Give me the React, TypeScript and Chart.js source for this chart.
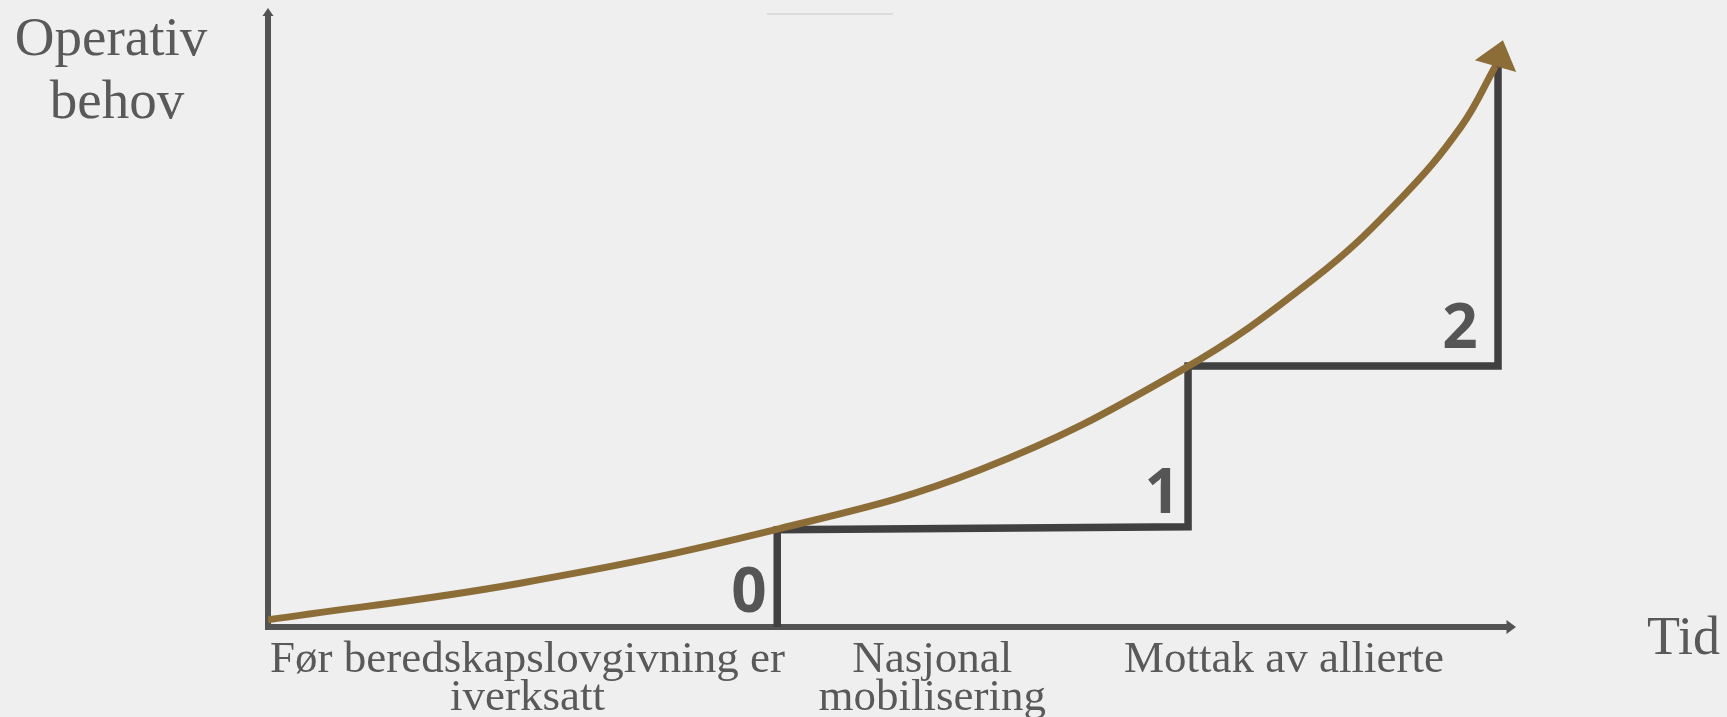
import React, { useEffect, useRef } from 'react';
import { Chart, registerables } from 'chart.js';

Chart.register(...registerables);

// ---- data (abstract units: time on x, operational need on y) ----
const phaseLabels: string[][] = [
  ['Før beredskapslovgivning er', 'iverksatt'],
  ['Nasjonal', 'mobilisering'],
  ['Mottak av allierte'],
];
const phaseLabelCenters = [21.1, 54.0, 82.6];

const curveX = [0, 20.5, 41.6, 57.9, 74.1, 85.0, 92.0, 97.0, 99.8];
const curveY = [1.2, 7.3, 16.4, 26.2, 42.6, 58.0, 71.2, 83.4, 93.5];
const curveTip = { x: 100.4, y: 97.8 };

const stepX = [41.4, 41.4, 74.8, 74.8, 100, 100];
const stepY = [0, 16.2, 16.7, 43.5, 43.5, 93.7];

const levelNames = ['0', '1', '2'];
const levelX = [39.1, 72.7, 96.9];
const levelY = [2.5, 19.0, 46.5];

const yTitle = ['Operativ', 'behov'];
const xTitle = 'Tid';

const X_MIN = 0;
const X_MAX = 100.73;
const Y_MIN = 0;
const Y_MAX = 101.67;

// ---- styles ----
const BG = '#efefef';
const AXIS_COLOR = '#535353';
const STEP_COLOR = '#404040';
const CURVE_COLOR = '#8c6d37';
const TEXT_COLOR = '#595959';
const LEVEL_COLOR = '#555555';
const SERIF = '"Liberation Serif", "DejaVu Serif", serif';

const decorPlugin = {
  id: 'decor',
  afterDraw(chart: any) {
    const { ctx, chartArea } = chart;
    const xs = chart.scales.x;
    const ys = chart.scales.y;
    ctx.save();

    // faint line at top
    ctx.strokeStyle = '#dcdcdc';
    ctx.lineWidth = 2;
    ctx.beginPath();
    ctx.moveTo(767, 14);
    ctx.lineTo(893, 14);
    ctx.stroke();

    // y-axis arrowhead
    ctx.fillStyle = AXIS_COLOR;
    const ax = chartArea.left;
    const at = chartArea.top;
    ctx.beginPath();
    ctx.moveTo(ax, at - 9);
    ctx.lineTo(ax + 5.5, at - 1);
    ctx.lineTo(ax - 5.5, at - 1);
    ctx.closePath();
    ctx.fill();

    // x-axis arrowhead
    const ab = chartArea.bottom;
    const ar = chartArea.right;
    ctx.beginPath();
    ctx.moveTo(ar + 9, ab);
    ctx.lineTo(ar - 0.5, ab - 7);
    ctx.lineTo(ar - 0.5, ab + 7);
    ctx.closePath();
    ctx.fill();

    // curve arrowhead
    const n = curveX.length - 1;
    const lx = xs.getPixelForValue(curveX[n]);
    const ly = ys.getPixelForValue(curveY[n]);
    const tx = xs.getPixelForValue(curveTip.x);
    const ty = ys.getPixelForValue(curveTip.y);
    const dx = tx - lx;
    const dy = ty - ly;
    const len = Math.hypot(dx, dy) || 1;
    const ux = dx / len;
    const uy = dy / len;
    const headLen = 27;
    const halfW = 21.5;
    const bx = tx - ux * headLen;
    const by = ty - uy * headLen;
    ctx.fillStyle = CURVE_COLOR;
    ctx.beginPath();
    ctx.moveTo(tx, ty);
    ctx.lineTo(bx - uy * halfW, by + ux * halfW);
    ctx.lineTo(bx + uy * halfW, by - ux * halfW);
    ctx.closePath();
    ctx.fill();

    // level numbers
    ctx.fillStyle = LEVEL_COLOR;
    ctx.font = 'bold 62px "Open Sans", "DejaVu Sans", sans-serif';
    ctx.textAlign = 'center';
    ctx.textBaseline = 'alphabetic';
    levelNames.forEach((t, i) => {
      ctx.fillText(t, xs.getPixelForValue(levelX[i]), ys.getPixelForValue(levelY[i]));
    });

    // axis titles
    ctx.fillStyle = TEXT_COLOR;
    ctx.font = `55px ${SERIF}`;
    ctx.textAlign = 'center';
    ctx.fillText(yTitle[0], 111, 55);
    ctx.fillText(yTitle[1], 117, 118);
    ctx.font = `54px ${SERIF}`;
    ctx.textAlign = 'left';
    ctx.fillText(xTitle, 1647, 654);

    ctx.restore();
  },
};

export default function App() {
  const canvasRef = useRef<HTMLCanvasElement | null>(null);

  useEffect(() => {
    const canvas = canvasRef.current;
    if (!canvas) return;
    const chart = new Chart(canvas, {
      type: 'scatter',
      data: {
        datasets: [
          {
            label: 'Operativt behov',
            data: curveX.map((x, i) => ({ x, y: curveY[i] })),
            showLine: true,
            borderColor: CURVE_COLOR,
            borderWidth: 7,
            pointRadius: 0,
            tension: 0.4,
            fill: false,
          },
          {
            label: 'Beredskapsnivå',
            data: stepX.map((x, i) => ({ x, y: stepY[i] })),
            showLine: true,
            borderColor: STEP_COLOR,
            borderWidth: 7.5,
            borderJoinStyle: 'miter',
            borderCapStyle: 'butt',
            pointRadius: 0,
            tension: 0,
            fill: false,
          },
        ],
      } as any,
      options: {
        animation: false,
        responsive: false,
        events: [],
        layout: { padding: { top: 17, right: 220, left: 0, bottom: 0 } },
        plugins: {
          legend: { display: false },
          tooltip: { enabled: false },
          title: { display: false },
        },
        scales: {
          x: {
            type: 'linear',
            min: X_MIN,
            max: X_MAX,
            grid: { display: false },
            border: { display: true, color: AXIS_COLOR, width: 6 },
            afterBuildTicks: (s: any) => {
              s.ticks = phaseLabelCenters.map((v) => ({ value: v }));
            },
            afterFit: (s: any) => {
              s.height = 90;
            },
            ticks: {
              autoSkip: false,
              maxRotation: 0,
              minRotation: 0,
              padding: 6,
              color: TEXT_COLOR,
              font: { family: SERIF, size: 45, lineHeight: '38px' },
              callback: (_v: any, i: number) => phaseLabels[i],
            },
          },
          y: {
            type: 'linear',
            min: Y_MIN,
            max: Y_MAX,
            grid: { display: false },
            border: { display: true, color: AXIS_COLOR, width: 6 },
            ticks: { display: false },
            afterFit: (s: any) => {
              s.width = 268;
            },
          },
        },
      } as any,
      plugins: [decorPlugin],
    });
    return () => chart.destroy();
  }, []);

  return (
    <div style={{ position: 'fixed', left: 0, top: 0, width: 1727, height: 717, background: BG }}>
      <canvas ref={canvasRef} width={1727} height={717} style={{ display: 'block' }} />
    </div>
  );
}
